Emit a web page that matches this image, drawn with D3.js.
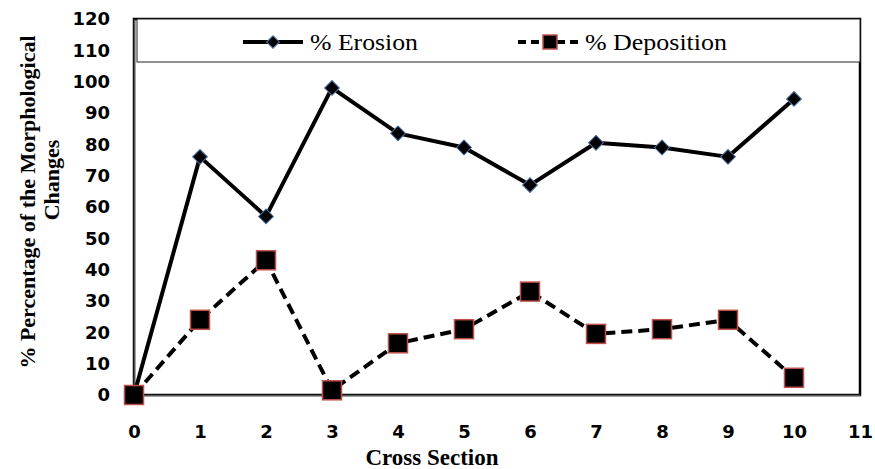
<!DOCTYPE html>
<html>
<head>
<meta charset="utf-8">
<script src="https://cdn.jsdelivr.net/npm/d3@7"></script>
<style>
  html, body { margin: 0; padding: 0; background: #fff; }
  svg { display: block; }
</style>
</head>
<body>
<svg id="chart" width="875" height="469"></svg>
<script>
// Cross sections along the reach and the share of each morphological change
const crossSections = [0, 1, 2, 3, 4, 5, 6, 7, 8, 9, 10];
const erosion = [0, 76, 57, 98, 83.5, 79, 67, 80.5, 79, 76, 94.5];
const deposition = [0, 24, 43, 1.5, 16.5, 21, 33, 19.5, 21, 24, 5.5];
const xTicks = [0, 1, 2, 3, 4, 5, 6, 7, 8, 9, 10, 11];
const yTicks = [0, 10, 20, 30, 40, 50, 60, 70, 80, 90, 100, 110, 120];
const seriesNames = ["% Erosion", "% Deposition"];

(function () {
const svg = d3.select("#chart");
const plotLeft = 134, plotRight = 860, plotTop = 19, plotBottom = 395;

const x = d3.scaleLinear().domain([0, 11]).range([plotLeft, plotRight]);
const y = d3.scaleLinear().domain([0, 120]).range([plotBottom, plotTop]);

const tickFont = "'DejaVu Sans', Verdana, sans-serif";
const serif = "'Liberation Serif', 'Times New Roman', serif";

// Plot frame
svg.append("rect")
  .attr("x", plotLeft).attr("y", plotTop)
  .attr("width", plotRight - plotLeft).attr("height", plotBottom - plotTop)
  .attr("fill", "none").attr("stroke", "#000").attr("stroke-width", 2.5);

// Axes (labels only, no tick marks)
const yAxis = svg.append("g")
  .attr("transform", `translate(${plotLeft},0)`)
  .call(d3.axisLeft(y).tickValues(yTicks).tickSize(0).tickPadding(24));
yAxis.select(".domain").attr("stroke", "#555").attr("stroke-width", 1.5);
yAxis.selectAll("text")
  .attr("font-family", tickFont).attr("font-weight", "bold")
  .attr("font-size", 18).attr("fill", "#000");

const xAxis = svg.append("g")
  .attr("transform", `translate(0,${plotBottom})`)
  .call(d3.axisBottom(x).tickValues(xTicks).tickSize(0).tickPadding(30));
xAxis.select(".domain").attr("stroke", "#555").attr("stroke-width", 1.5);
xAxis.selectAll("text")
  .attr("font-family", tickFont).attr("font-weight", "bold")
  .attr("font-size", 18).attr("fill", "#000");

// Axis titles
svg.append("text")
  .attr("x", 432).attr("y", 465)
  .attr("text-anchor", "middle")
  .attr("font-family", serif).attr("font-weight", "bold").attr("font-size", 23)
  .text("Cross Section");

svg.append("text")
  .attr("transform", "translate(35,202) rotate(-90)")
  .attr("text-anchor", "middle")
  .attr("font-family", serif).attr("font-weight", "bold").attr("font-size", 22)
  .text("% Percentage of the Morphological");
svg.append("text")
  .attr("transform", "translate(59,180) rotate(-90)")
  .attr("text-anchor", "middle")
  .attr("font-family", serif).attr("font-weight", "bold").attr("font-size", 22)
  .text("Changes");

// Legend box inside the top of the plot
svg.append("rect")
  .attr("x", 137).attr("y", plotTop).attr("width", plotRight - 137).attr("height", 62 - plotTop)
  .attr("fill", "#fff").attr("stroke", "#222").attr("stroke-width", 1);

const line = d3.line().x((d, i) => x(crossSections[i])).y(d => y(d));

// Erosion series
svg.append("path")
  .datum(erosion)
  .attr("d", line)
  .attr("fill", "none").attr("stroke", "#000").attr("stroke-width", 4)
  .attr("stroke-linejoin", "round");

// Deposition series
svg.append("path")
  .datum(deposition)
  .attr("d", line)
  .attr("fill", "none").attr("stroke", "#000").attr("stroke-width", 4)
  .attr("stroke-dasharray", "11,6");

const diamond = d3.symbol().type(d3.symbolSquare).size(110);
svg.append("g").selectAll("path")
  .data(erosion)
  .join("path")
  .attr("d", diamond)
  .attr("transform", (d, i) => `translate(${x(crossSections[i])},${y(d)}) rotate(45)`)
  .attr("fill", "#000").attr("stroke", "#4a6fa0").attr("stroke-width", 1);

const squareSize = 19;
svg.append("g").selectAll("rect")
  .data(deposition)
  .join("rect")
  .attr("x", (d, i) => x(crossSections[i]) - squareSize / 2)
  .attr("y", d => y(d) - squareSize / 2)
  .attr("width", squareSize).attr("height", squareSize)
  .attr("fill", "#000").attr("stroke", "#c0504d").attr("stroke-width", 1.5);

// Legend entries
const ly = 42;
svg.append("line").attr("x1", 243).attr("x2", 303).attr("y1", ly).attr("y2", ly)
  .attr("stroke", "#000").attr("stroke-width", 4);
svg.append("path").attr("d", d3.symbol().type(d3.symbolSquare).size(80))
  .attr("transform", `translate(273,${ly}) rotate(45)`)
  .attr("fill", "#000").attr("stroke", "#4a6fa0").attr("stroke-width", 1);
svg.append("text").attr("x", 310).attr("y", ly + 8)
  .attr("font-family", serif).attr("font-size", 23)
  .attr("textLength", 108).attr("lengthAdjust", "spacingAndGlyphs")
  .text(seriesNames[0]);

svg.append("line").attr("x1", 518).attr("x2", 582).attr("y1", ly).attr("y2", ly)
  .attr("stroke", "#000").attr("stroke-width", 4).attr("stroke-dasharray", "8,5");
svg.append("rect").attr("x", 543).attr("y", ly - 7).attr("width", 14).attr("height", 14)
  .attr("fill", "#000").attr("stroke", "#c0504d").attr("stroke-width", 1.5);
svg.append("text").attr("x", 585).attr("y", ly + 8)
  .attr("font-family", serif).attr("font-size", 23)
  .attr("textLength", 142).attr("lengthAdjust", "spacingAndGlyphs")
  .text(seriesNames[1]);
})();
</script>
</body>
</html>
